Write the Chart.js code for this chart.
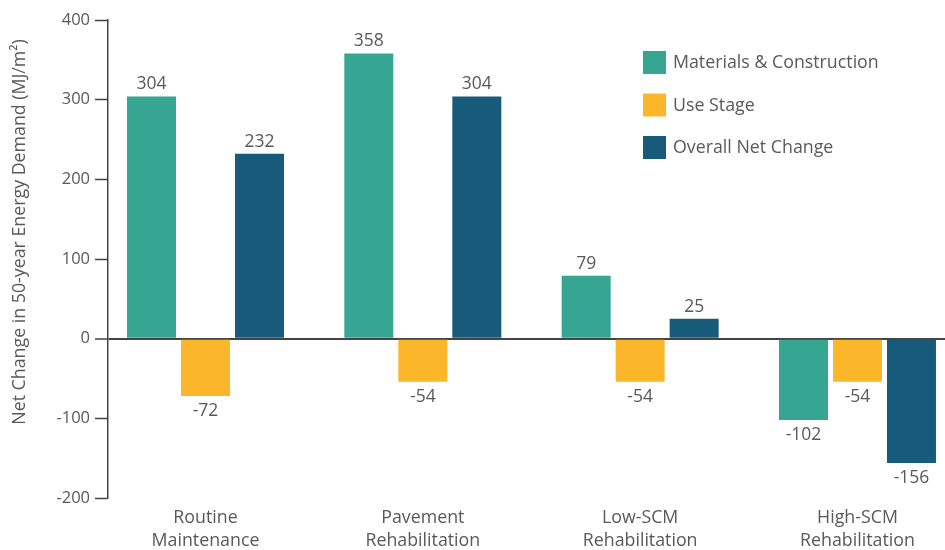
<!DOCTYPE html>
<html>
<head>
<meta charset="utf-8">
<script src="https://cdn.jsdelivr.net/npm/chart.js@4.4.1/dist/chart.umd.min.js"></script>
<style>
html,body{margin:0;padding:0;background:#fff;overflow:hidden}
#wrap{width:945px;height:550px;position:relative}
</style>
</head>
<body>
<div id="wrap"><canvas id="energyChart"></canvas></div>
<script>
const categories=[["Routine","Maintenance"],["Pavement","Rehabilitation"],["Low-SCM","Rehabilitation"],["High-SCM","Rehabilitation"]]
const seriesNames=["Materials & Construction","Use Stage","Overall Net Change"]
const materials=[304,358,79,-102]
const useStage=[-72,-54,-54,-54]
const netChange=[232,304,25,-156]
const yTicks=[-200,-100,0,100,200,300,400]

const colors=["#36a591","#fbb62a","#175a7a"]
const textColor="#595959"
const fontFamily="'Open Sans', sans-serif"

function points(values){
  return values.map((v,i)=>({x:i,y:v}))
}

// value labels above / below each bar
const barLabels={
  id:"barLabels",
  afterDatasetsDraw(chart){
    const ctx=chart.ctx
    ctx.save()
    ctx.font="17.5px "+fontFamily
    ctx.fillStyle=textColor
    ctx.textAlign="center"
    ctx.textBaseline="alphabetic"
    chart.data.datasets.forEach((ds,di)=>{
      chart.getDatasetMeta(di).data.forEach((bar,i)=>{
        const v=ds.data[i].y
        const y=v>=0?bar.y-7:bar.y+20
        ctx.fillText(String(v),bar.x,y)
      })
    })
    ctx.restore()
  }
}

// legend block in the upper right, plus the rotated y title
const sideText={
  id:"sideText",
  afterDraw(chart){
    const ctx=chart.ctx
    ctx.save()
    ctx.font="17.8px "+fontFamily
    ctx.textBaseline="middle"
    ctx.textAlign="left"
    chart.data.datasets.forEach((ds,i)=>{
      const top=51+i*42.5
      ctx.fillStyle=ds.backgroundColor
      ctx.fillRect(643,top,23,23)
      ctx.fillStyle=textColor
      ctx.fillText(ds.label,673,top+12)
    })

    ctx.translate(20,232)
    ctx.rotate(-Math.PI/2)
    ctx.textAlign="center"
    ctx.font="17.8px "+fontFamily
    ctx.fillText("Net Change in 50-year Energy Demand (MJ/m²)",0,0)
    ctx.restore()
  }
}

new Chart(document.getElementById("energyChart"),{
  type:"bar",
  data:{
    datasets:[
      {label:seriesNames[0],data:points(materials),backgroundColor:colors[0]},
      {label:seriesNames[1],data:points(useStage),backgroundColor:colors[1]},
      {label:seriesNames[2],data:points(netChange),backgroundColor:colors[2]}
    ]
  },
  options:{
    responsive:true,
    maintainAspectRatio:false,
    animation:false,
    categoryPercentage:0.7454,
    barPercentage:0.9074,
    layout:{padding:{top:20,right:0,bottom:0,left:0}},
    plugins:{legend:{display:false},tooltip:{enabled:false}},
    scales:{
      x:{
        type:"linear",
        offset:false,
        bounds:"data",
        min:-0.4486,
        max:3.4027,
        grid:{display:false},
        border:{display:false},
        afterBuildTicks(scale){
          scale.ticks=categories.map((c,i)=>({value:i}))
        },
        afterFit(scale){scale.height=52},
        ticks:{
          padding:0,
          color:textColor,
          font:{family:fontFamily,size:17.8,lineHeight:1.3},
          maxRotation:0,
          autoSkip:false,
          callback:v=>categories[v]
        }
      },
      y:{
        min:-200,
        max:400,
        afterBuildTicks(scale){
          scale.ticks=yTicks.map(v=>({value:v}))
        },
        afterFit(scale){scale.width=108},
        border:{display:true,color:"#444",width:1.5},
        grid:{
          drawOnChartArea:true,
          color:c=>c.tick&&c.tick.value===0?"#444":"rgba(0,0,0,0)",
          lineWidth:c=>c.tick&&c.tick.value===0?2:1,
          tickColor:"#444",
          tickLength:13,
          tickWidth:1.5
        },
        ticks:{
          padding:5,
          color:textColor,
          font:{family:fontFamily,size:16.5}
        }
      }
    }
  },
  plugins:[barLabels,sideText]
})
</script>
</body>
</html>
